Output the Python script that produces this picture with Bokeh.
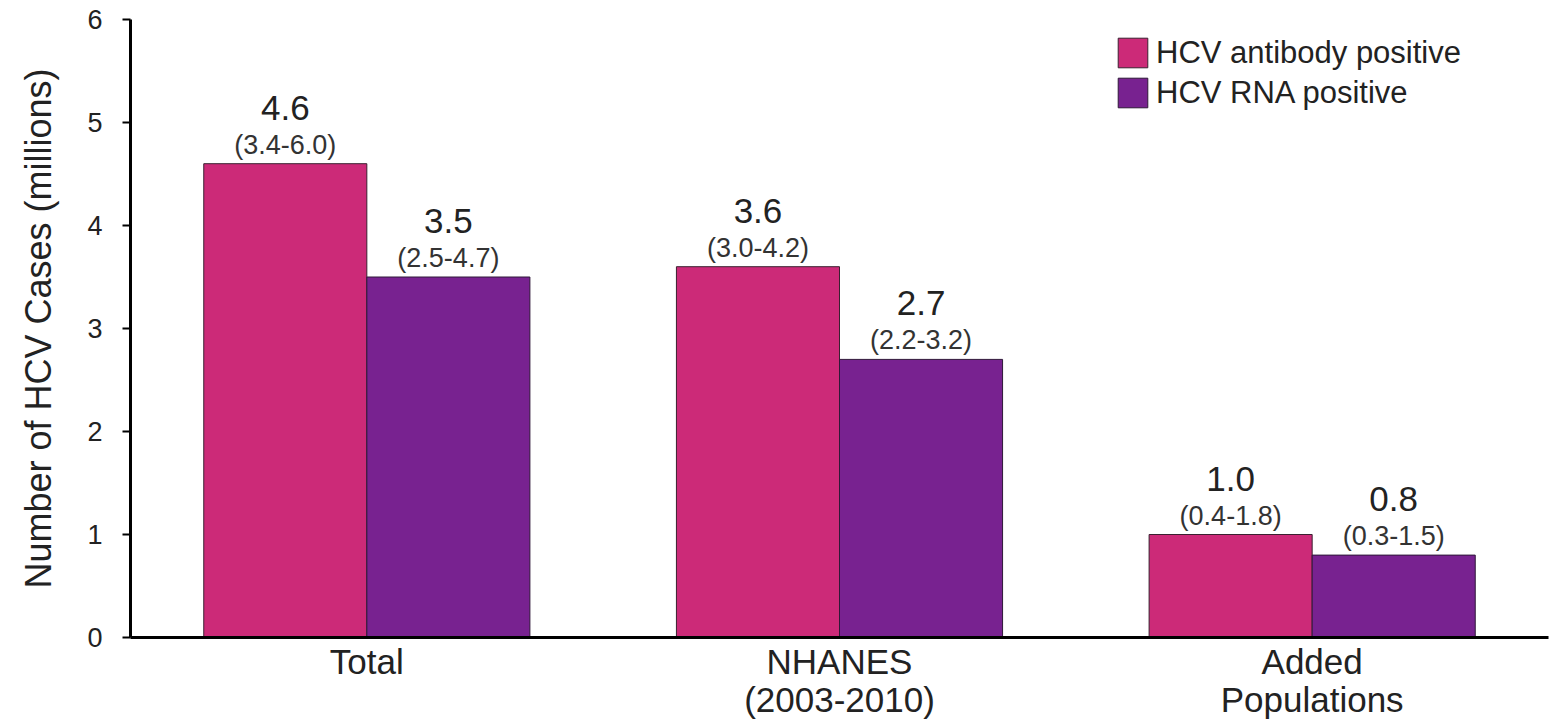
from bokeh.plotting import figure
from bokeh.models import ColumnDataSource, FactorRange, Range1d, FixedTicker, CategoricalAxis
from bokeh.transform import dodge
from bokeh.core.properties import value
from bokeh.embed import file_html
from bokeh.resources import INLINE

categories = ["Total", "NHANES", "Added"]
category_line2 = [" ", "(2003-2010)", "Populations"]
antibody = [4.6, 3.6, 1.0]
rna = [3.5, 2.7, 0.8]
antibody_ci = ["(3.4-6.0)", "(3.0-4.2)", "(0.4-1.8)"]
rna_ci = ["(2.5-4.7)", "(2.2-3.2)", "(0.3-1.5)"]
y_ticks = [0, 1, 2, 3, 4, 5, 6]
series_names = ["HCV antibody positive", "HCV RNA positive"]

PINK = "#CC2A78"
PURPLE = "#782290"
FONT = "Liberation Sans"
TXT = "#222222"

src = ColumnDataSource(dict(
    cat=categories,
    ab=antibody,
    rna=rna,
    ab_lbl=[f"{v:.1f}" for v in antibody],
    rna_lbl=[f"{v:.1f}" for v in rna],
    ab_ci=antibody_ci,
    rna_ci=rna_ci,
))

p = figure(
    width=1554, height=724,
    x_range=FactorRange(factors=categories, range_padding=0),
    y_range=Range1d(0, 6),
    output_backend="svg", toolbar_location=None,
    min_border_left=130, min_border_right=6,
    min_border_top=19, min_border_bottom=87,
)
p.extra_x_ranges = {"line2": FactorRange(factors=category_line2, range_padding=0)}
p.outline_line_color = None
p.xgrid.visible = False
p.ygrid.visible = False
p.background_fill_color = "white"
p.border_fill_color = "white"

W = 0.345
p.vbar(x=dodge("cat", -W / 2, range=p.x_range), top="ab", width=W, source=src,
       fill_color=PINK, line_color="#3a2030", line_width=1,
       legend_label=series_names[0])
p.vbar(x=dodge("cat", W / 2, range=p.x_range), top="rna", width=W, source=src,
       fill_color=PURPLE, line_color="#2e1838", line_width=1,
       legend_label=series_names[1])

for col, lbl, ci, off in [("ab", "ab_lbl", "ab_ci", -W / 2), ("rna", "rna_lbl", "rna_ci", W / 2)]:
    p.text(x=dodge("cat", off, range=p.x_range), y=col, text=lbl, source=src,
           text_align="center", text_baseline="alphabetic", y_offset=-56,
           text_font=value(FONT), text_font_size="35px", text_color=TXT)
    p.text(x=dodge("cat", off, range=p.x_range), y=col, text=ci, source=src,
           text_align="center", text_baseline="alphabetic", y_offset=-19,
           text_font=value(FONT), text_font_size="27px", text_color="#333333")

# axes
xa = p.xaxis[0]
xa.axis_line_width = 3
xa.axis_line_color = "black"
xa.major_tick_out = 0
xa.major_tick_in = 0
xa.minor_tick_line_color = None
xa.major_label_text_font = FONT
xa.major_label_text_font_size = "35px"
xa.major_label_text_color = TXT
xa.major_label_text_line_height = 1.0
xa.major_label_standoff = 4

xa2 = CategoricalAxis(x_range_name="line2")
xa2.axis_line_color = None
xa2.major_tick_out = 0
xa2.major_tick_in = 0
xa2.major_tick_line_color = None
xa2.minor_tick_line_color = None
xa2.major_label_text_font = FONT
xa2.major_label_text_font_size = "35px"
xa2.major_label_text_color = TXT
xa2.major_label_text_line_height = 1.0
xa2.major_label_standoff = -4
p.add_layout(xa2, "below")

ya = p.yaxis[0]
ya.ticker = FixedTicker(ticks=y_ticks)
ya.axis_line_width = 3
ya.axis_line_color = "black"
ya.major_tick_out = 8
ya.major_tick_in = 0
ya.major_tick_line_width = 2
ya.minor_tick_line_color = None
ya.major_label_text_font = FONT
ya.major_label_text_font_size = "27px"
ya.major_label_text_color = TXT
ya.major_label_standoff = 20
ya.axis_label = "Number of HCV Cases (millions)"
ya.axis_label_text_font = FONT
ya.axis_label_text_font_size = "36px"
ya.axis_label_text_font_style = "normal"
ya.axis_label_text_color = TXT
ya.axis_label_standoff = 25

lg = p.legend[0]
lg.location = (984, 526)
lg.background_fill_alpha = 0
lg.border_line_color = None
lg.padding = 0
lg.margin = 0
lg.spacing = 3
lg.glyph_width = 37
lg.glyph_height = 37
lg.label_height = 37
lg.label_standoff = 5
lg.label_text_font = FONT
lg.label_text_font_size = "31px"
lg.label_text_color = TXT
lg.label_text_baseline = "middle"

open("out.html", "w").write(file_html(p, INLINE))
